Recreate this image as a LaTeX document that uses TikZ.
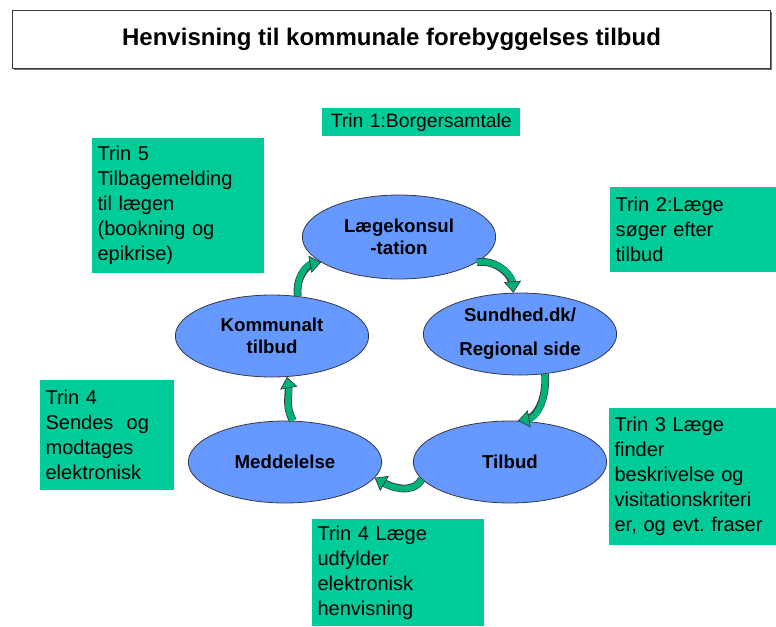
\documentclass[tikz,border=0pt]{standalone}
\usepackage{fontspec}
\setmainfont{Liberation Sans}
\usetikzlibrary{shapes.geometric,arrows.meta,shadows}

\definecolor{boxgreen}{RGB}{0,204,153}
\definecolor{ovalblue}{RGB}{102,153,255}
\definecolor{arrowgreen}{RGB}{0,178,120}
\definecolor{edgegray}{RGB}{55,55,70}

\tikzset{
  trinbox/.style={fill=boxgreen, anchor=north west, inner xsep=4pt, inner ysep=3pt,
    align=left, font=\fontsize{15}{18.75}\selectfont},
  oval/.style={ellipse, draw=edgegray, line width=0.6pt, fill=ovalblue,
    minimum width=145pt, minimum height=61.5pt, inner sep=0pt, align=center,
    font=\fontsize{14}{16.5}\selectfont\bfseries},
  cyclearrow/.style={arrowgreen, line width=4.6pt,
    -{Triangle[length=8.5pt,width=13pt,line width=0.5pt,fill=arrowgreen,color=edgegray]},
    preaction={draw=edgegray, line width=5.8pt, -{}, shorten >=6pt}}
}

\begin{document}
\begin{tikzpicture}[x=0.75pt,y=0.75pt]
  \useasboundingbox (0,0) rectangle (776,-626);

  \node[draw=edgegray, line width=0.8pt, fill=white,
    drop shadow={shadow xshift=1.2pt, shadow yshift=-1.2pt, fill=black!55, opacity=1},
    minimum width=568.5pt, minimum height=43.5pt, anchor=north west,
    font=\fontsize{18}{22}\selectfont\bfseries] (title) at (12,-10)
    {Henvisning til kommunale forebyggelses tilbud};

  % trin boxes
  \node[trinbox, align=center, text width=140.5pt, minimum height=21pt,
    font=\fontsize{14.5}{18}\selectfont] (trin1) at (322,-108)
    {Trin 1:Borgersamtale};
  \node[trinbox, text width=121pt, minimum height=101.25pt] (trin5) at (92,-138)
    {Trin 5\\Tilbagemelding\\til lægen\\(bookning og\\epikrise)};
  \node[trinbox, text width=116.5pt, minimum height=63.75pt] (trin2) at (610,-187)
    {Trin 2:Læge\\søger efter\\tilbud};
  \node[trinbox, text width=92.5pt, minimum height=82.5pt] (trin4a) at (40,-380)
    {Trin 4\\Sendes\ \ og\\modtages\\elektronisk};
  \node[trinbox, text width=117.25pt, minimum height=102.75pt] (trin3) at (609,-408)
    {Trin 3 Læge\\finder\\beskrivelse og\\visitationskriteri\\er, og evt.\ fraser};
  \node[trinbox, text width=121pt, minimum height=80.25pt] (trin4b) at (312,-519)
    {Trin 4 Læge\\udfylder\\elektronisk\\henvisning};

  % cycle
  \node[oval, minimum height=63pt] (lk) at (399,-237) {Lægekonsul\\-tation};
  \node[oval] (sd) at (520,-334) {Sundhed.dk/\\[9pt]Regional side};
  \node[oval] (kt) at (272,-336) {Kommunalt\\tilbud};
  \node[oval] (md) at (285,-462) {Meddelelse};
  \node[oval] (tb) at (510,-462) {Tilbud};

  \draw[cyclearrow] (kt.57) to[out=100,in=190] (lk.198);
  \draw[cyclearrow] (lk.342) to[out=10,in=95] (sd.99);
  \draw[cyclearrow] (sd.302) to[out=-85,in=10] (tb.79);
  \draw[cyclearrow] (tb.191) to[out=240,in=-30] (md.350);
  \draw[cyclearrow] (md.79) to[out=120,in=-80] (kt.290);
\end{tikzpicture}
\end{document}
